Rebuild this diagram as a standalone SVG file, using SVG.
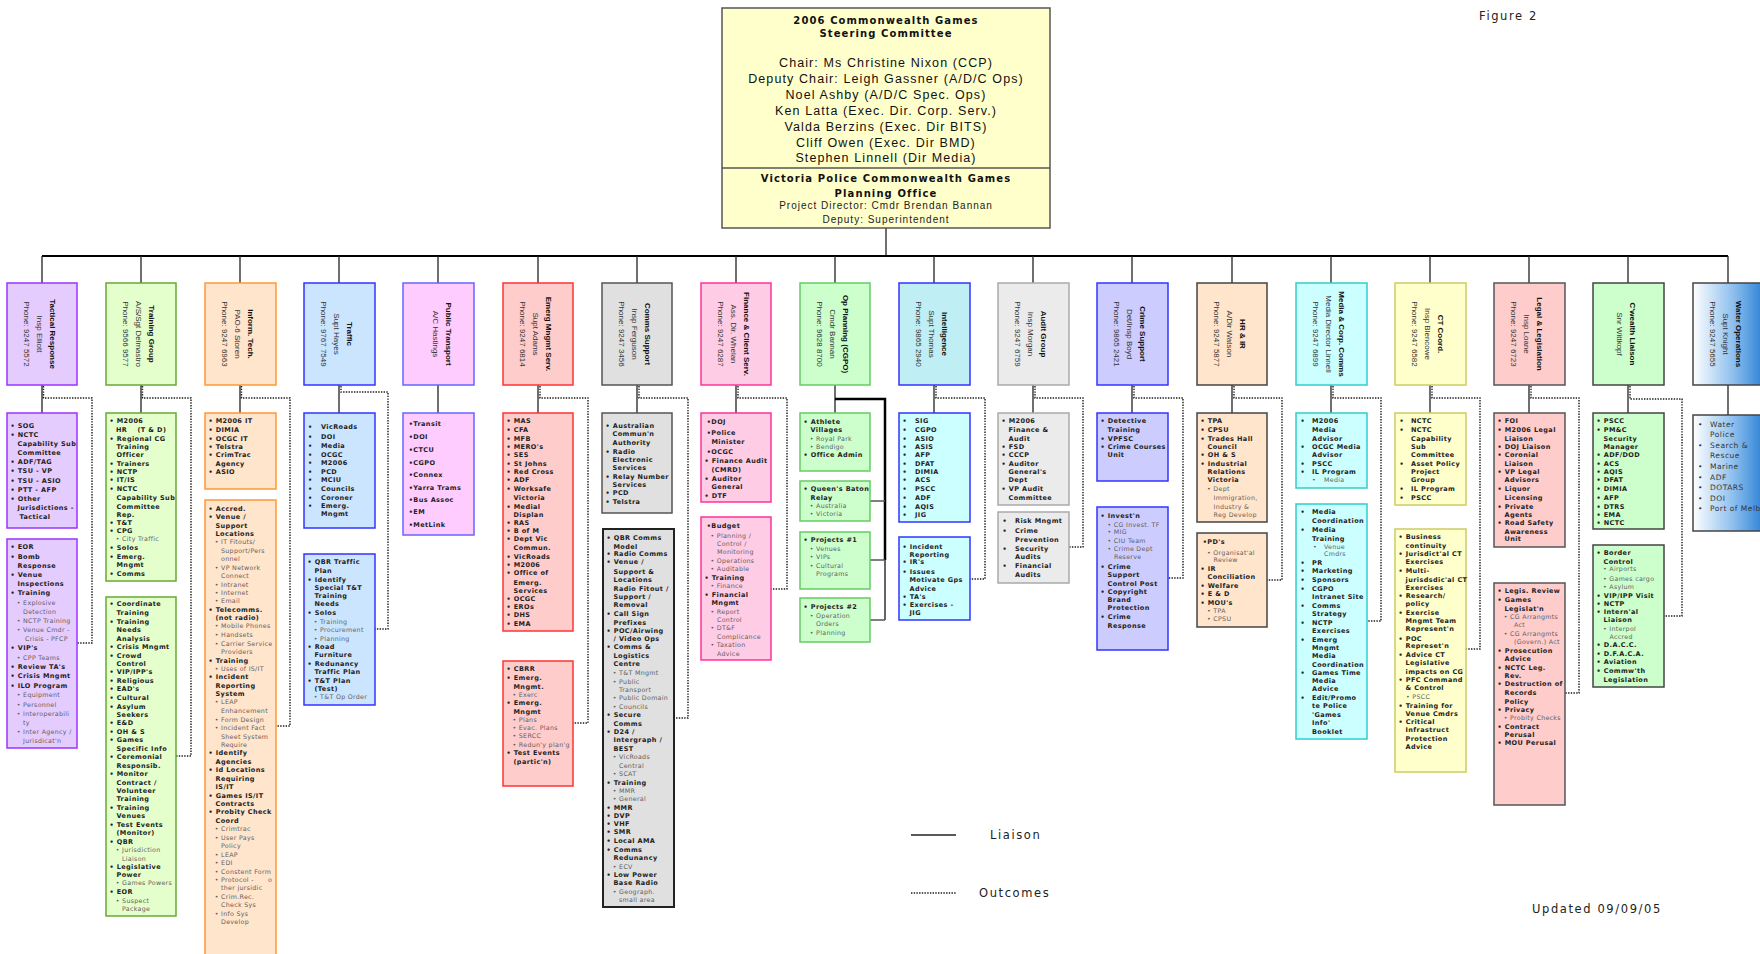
<svg xmlns="http://www.w3.org/2000/svg" width="1760" height="954" viewBox="0 0 1760 954">
<defs>
<linearGradient id="wg" x1="0" y1="0" x2="1" y2="0">
<stop offset="0" stop-color="#ffffff"/><stop offset="0.55" stop-color="#8fc0ee"/><stop offset="1" stop-color="#2a7fd4"/>
</linearGradient>
</defs>
<style>
.h{font-family:"Liberation Sans",Arial,sans-serif;font-weight:bold;font-size:8px;fill:#111;text-anchor:middle}
.n{font-family:"Liberation Sans",Arial,sans-serif;font-size:8px;fill:#333;text-anchor:middle}
.b{font-family:"DejaVu Sans",Verdana,sans-serif;font-weight:bold;font-size:6.5px;letter-spacing:.4px;fill:#222}
.s{font-family:"DejaVu Sans",Verdana,sans-serif;font-size:6.3px;letter-spacing:.3px;fill:#5f5f5f}
.w{font-family:"DejaVu Sans",Verdana,sans-serif;font-size:7.5px;letter-spacing:.5px;fill:#333}
.t1{font-family:"DejaVu Sans",Verdana,sans-serif;font-weight:bold;font-size:10px;letter-spacing:1.1px;fill:#111;text-anchor:middle}
.t2{font-family:"Liberation Sans",Arial,sans-serif;font-size:12.5px;letter-spacing:1.1px;fill:#111;text-anchor:middle}
.t3{font-family:"Liberation Sans",Arial,sans-serif;font-size:10px;letter-spacing:1px;fill:#222;text-anchor:middle}
.lg{font-family:"DejaVu Sans",Verdana,sans-serif;font-size:11.5px;letter-spacing:1.6px;fill:#222}
.ln{fill:none;stroke:#222;stroke-width:1.3}
.bus{fill:none;stroke:#000;stroke-width:2}
.dt{fill:none;stroke:#1a1a1a;stroke-width:1.4;stroke-dasharray:1.4 1.3}
rect{stroke-width:1.5}
.c1{fill:#e5ccff;stroke:#9933ff}
.c2{fill:#e5ffcc;stroke:#66aa33}
.c3{fill:#ffe5cc;stroke:#ff9933}
.c4{fill:#cce5ff;stroke:#3333ff}
.c5{fill:#ffccff;stroke:#6666ff}
.c6{fill:#ffcccc;stroke:#ff3333}
.c7{fill:#e0e0e0;stroke:#555}
.c7b{fill:#e0e0e0;stroke:#222;stroke-width:2}
.c8{fill:#ffcce5;stroke:#ff3399}
.c9{fill:#ccffcc;stroke:#66cc66}
.c10h{fill:#bfeff5;stroke:#3333ff}
.c10{fill:#ccffff;stroke:#3333ff}
.c11{fill:#ebebeb;stroke:#aaa}
.c12{fill:#ccccff;stroke:#3333ff}
.c13{fill:#ffe5cc;stroke:#444}
.c14{fill:#ccffff;stroke:#33cccc}
.c15{fill:#ffffcc;stroke:#cccc66}
.c16{fill:#ffcccc;stroke:#555}
.c17{fill:#ccffcc;stroke:#444}
.c18{fill:url(#wg);stroke:#444}
</style>

<g id="connectors">
<path class="ln" d="M886,228 V256"/>
<path class="bus" d="M42,256 H1728"/>
<path class="ln" d="M42,256V283M141,256V283M240,256V283M339,256V283M438,256V283M538,256V283M637,256V283M736,256V283M835,256V283M934,256V283M1033,256V283M1132,256V283M1232,256V283M1331,256V283M1430,256V283M1529,256V283M1628,256V283M1728,256V283"/>
<path class="ln" d="M42,385V413M141,385V413M240,385V413M339,385V413M438,385V413M538,385V413M637,385V413M736,385V413M835,385V413M934,385V413M1033,385V413M1132,385V413M1232,385V413M1331,385V413M1430,385V413M1529,385V413M1628,385V413M1728,385V415"/>
<path d="M835,399 H885 V560" fill="none" stroke="#000" stroke-width="2.5"/>
<path d="M885,560 V620" fill="none" stroke="#666" stroke-width="2"/>
<path d="M870,501 H885 M870,560 H885 M870,620 H885" fill="none" stroke="#555" stroke-width="1.5"/>
<path class="dt" d="M43.5,386 V398 H92 V643 H77"/>
<path class="dt" d="M142.5,386 V398 H191 V756 H176"/>
<path class="dt" d="M241.5,386 V398 H290 V726 H276"/>
<path class="dt" d="M341,386 V392 H388 V629 H375"/>
<path class="dt" d="M540,386 V398 H588 V723 H573"/>
<path class="dt" d="M639,386 V398 H688 V718 H674"/>
<path class="dt" d="M738,386 V398 H787 V589 H771"/>
<path class="dt" d="M936,386 V398 H985 V579 H970"/>
<path class="dt" d="M1035,386 V398 H1083 V547 H1069"/>
<path class="dt" d="M1134,386 V398 H1183 V578 H1168"/>
<path class="dt" d="M1234,386 V398 H1282 V580 H1267"/>
<path class="dt" d="M1333,386 V398 H1381 V621 H1367"/>
<path class="dt" d="M1432,386 V398 H1480 V649 H1466"/>
<path class="dt" d="M1531,386 V398 H1579 V693 H1565"/>
<path class="dt" d="M1630,386 V399 H1682 V616 H1664"/>
</g>

<g id="steering-committee">
<rect x="722" y="8" width="328" height="220" fill="#ffffcc" stroke="#555"/>
<line x1="722" y1="168" x2="1050" y2="168" stroke="#555" stroke-width="1.3"/>
<text class="t1" x="886" y="24">2006 Commonwealth Games</text>
<text class="t1" x="886" y="37">Steering Committee</text>
<text class="t2" x="886" y="66.5">Chair: Ms Christine Nixon (CCP)</text>
<text class="t2" x="886" y="82.5">Deputy Chair: Leigh Gassner (A/D/C Ops)</text>
<text class="t2" x="886" y="98.5">Noel Ashby (A/D/C Spec. Ops)</text>
<text class="t2" x="886" y="114.5">Ken Latta (Exec. Dir. Corp. Serv.)</text>
<text class="t2" x="886" y="130.5">Valda Berzins (Exec. Dir BITS)</text>
<text class="t2" x="886" y="146.5">Cliff Owen (Exec. Dir BMD)</text>
<text class="t2" x="886" y="162">Stephen Linnell (Dir Media)</text>
<text class="t1" x="886" y="182">Victoria Police Commonwealth Games</text>
<text class="t1" x="886" y="196.5">Planning Office</text>
<text class="t3" x="886" y="208.5">Project Director: Cmdr Brendan Bannan</text>
<text class="t3" x="886" y="222.5">Deputy: Superintendent</text>
</g>

<g id="tactical-response">
<rect class="c1" x="7" y="283" width="70" height="102"/>
<g transform="translate(42,334) rotate(90)"><text class="h" y="-8">Tactical Response</text><text class="n" y="5">Insp Elliott</text><text class="n" y="18">Phone: 9247 5572</text></g>
</g>
<g id="tactical-liaison" transform="translate(7,0)">
<rect class="c1" x="0" y="413" width="70" height="115"/>
<text class="b" x="3.5" y="428">• SOG</text>
<text class="b" x="3.5" y="437">• NCTC</text>
<text class="b" x="10.5" y="446">Capability Sub</text>
<text class="b" x="10.5" y="455">Committee</text>
<text class="b" x="3.5" y="464">• ADF/TAG</text>
<text class="b" x="3.5" y="473">• TSU - VP</text>
<text class="b" x="3.5" y="483">• TSU - ASIO</text>
<text class="b" x="3.5" y="492">• PTT - AFP</text>
<text class="b" x="3.5" y="501">• Other</text>
<text class="b" x="10.5" y="510">Jurisdictions -</text>
<text class="b" x="12.5" y="519">Tactical</text>
</g>
<g id="tactical-outcomes" transform="translate(7,0)">
<rect class="c1" x="0" y="539" width="70" height="209"/>
<text class="b" x="3.5" y="549">• EOR</text>
<text class="b" x="3.5" y="559">• Bomb</text>
<text class="b" x="10.5" y="568">Response</text>
<text class="b" x="3.5" y="577">• Venue</text>
<text class="b" x="10.5" y="586">Inspections</text>
<text class="b" x="3.5" y="595">• Training</text>
<text class="s" x="9.8" y="605">• Explosive</text>
<text class="s" x="16" y="614">Detection</text>
<text class="s" x="9.8" y="623">• NCTP Training</text>
<text class="s" x="9.8" y="632">• Venue Cmdr -</text>
<text class="s" x="18" y="641">Crisis - PFCP</text>
<text class="b" x="3.5" y="650">• VIP's</text>
<text class="s" x="9.8" y="660">• CPP Teams</text>
<text class="b" x="3.5" y="669">• Review TA's</text>
<text class="b" x="3.5" y="678">• Crisis Mngmt</text>
<text class="b" x="3.5" y="688">• ILO Program</text>
<text class="s" x="9.8" y="697">• Equipment</text>
<text class="s" x="9.8" y="707">• Personnel</text>
<text class="s" x="9.8" y="716">• Interoperabili</text>
<text class="s" x="16" y="725">ty</text>
<text class="s" x="9.8" y="734">• Inter Agency /</text>
<text class="s" x="16" y="743">Jurisdicat'n</text>
</g>

<g id="training-group">
<rect class="c2" x="106" y="283" width="70" height="102"/>
<g transform="translate(141,334) rotate(90)"><text class="h" y="-8">Training Group</text><text class="n" y="5">A/S/Sgt Delmastro</text><text class="n" y="18">Phone: 9566 9577</text></g>
</g>
<g id="training-liaison" transform="translate(106,0)">
<rect class="c2" x="0" y="413" width="70" height="168"/>
<text class="b" x="3.5" y="423">• M2006</text>
<text class="b" y="432"><tspan x="10">HR</tspan><tspan x="31.5">(T &amp; D)</tspan></text>
<text class="b" x="3.5" y="441">• Regional CG</text>
<text class="b" x="10.5" y="449">Training</text>
<text class="b" x="10.5" y="457">Officer</text>
<text class="b" x="3.5" y="466">• Trainers</text>
<text class="b" x="3.5" y="474">• NCTP</text>
<text class="b" x="3.5" y="482">• IT/IS</text>
<text class="b" x="3.5" y="491">• NCTC</text>
<text class="b" x="10.5" y="500">Capability Sub</text>
<text class="b" x="10.5" y="509">Committee</text>
<text class="b" x="10.5" y="517">Rep.</text>
<text class="b" x="3.5" y="525">• T&amp;T</text>
<text class="b" x="3.5" y="533">• CPG</text>
<text class="s" x="9.8" y="541">• City Traffic</text>
<text class="b" x="3.5" y="550">• Solos</text>
<text class="b" x="3.5" y="559">• Emerg.</text>
<text class="b" x="10.5" y="567">Mngmt</text>
<text class="b" x="3.5" y="576">• Comms</text>
</g>
<g id="training-outcomes" transform="translate(106,0)">
<rect class="c2" x="0" y="597" width="70" height="319"/>
<text class="b" x="3.5" y="606">• Coordinate</text>
<text class="b" x="10.5" y="615">Training</text>
<text class="b" x="3.5" y="624">• Training</text>
<text class="b" x="10.5" y="632">Needs</text>
<text class="b" x="10.5" y="641">Analysis</text>
<text class="b" x="3.5" y="649">• Crisis Mngmt</text>
<text class="b" x="3.5" y="658">• Crowd</text>
<text class="b" x="10.5" y="666">Control</text>
<text class="b" x="3.5" y="674">• VIP/IPP's</text>
<text class="b" x="3.5" y="683">• Religious</text>
<text class="b" x="3.5" y="691">• EAD's</text>
<text class="b" x="3.5" y="700">• Cultural</text>
<text class="b" x="3.5" y="709">• Asylum</text>
<text class="b" x="10.5" y="717">Seekers</text>
<text class="b" x="3.5" y="725">• E&amp;D</text>
<text class="b" x="3.5" y="734">• OH &amp; S</text>
<text class="b" x="3.5" y="742">• Games</text>
<text class="b" x="10.5" y="751">Specific Info</text>
<text class="b" x="3.5" y="759">• Ceremonial</text>
<text class="b" x="10.5" y="768">Responsib.</text>
<text class="b" x="3.5" y="776">• Monitor</text>
<text class="b" x="10.5" y="785">Contract /</text>
<text class="b" x="10.5" y="793">Volunteer</text>
<text class="b" x="10.5" y="801">Training</text>
<text class="b" x="3.5" y="810">• Training</text>
<text class="b" x="10.5" y="818">Venues</text>
<text class="b" x="3.5" y="827">• Test Events</text>
<text class="b" x="10.5" y="835">(Monitor)</text>
<text class="b" x="3.5" y="844">• QBR</text>
<text class="s" x="9.8" y="852">• Jurisdiction</text>
<text class="s" x="16" y="861">Liaison</text>
<text class="b" x="3.5" y="869">• Legislative</text>
<text class="b" x="10.5" y="877">Power</text>
<text class="s" x="9.8" y="885">• Games Powers</text>
<text class="b" x="3.5" y="894">• EOR</text>
<text class="s" x="9.8" y="903">• Suspect</text>
<text class="s" x="16" y="911">Package</text>
</g>

<g id="inform-tech">
<rect class="c3" x="205" y="283" width="71" height="102"/>
<g transform="translate(240,334) rotate(90)"><text class="h" y="-8">Inform. Tech.</text><text class="n" y="5">PAO-6 Storen</text><text class="n" y="18">Phone: 9247 6963</text></g>
</g>
<g id="infotech-liaison" transform="translate(205,0)">
<rect class="c3" x="0" y="413" width="71" height="76"/>
<text class="b" x="3.5" y="423">• M2006 IT</text>
<text class="b" x="3.5" y="432">• DIMIA</text>
<text class="b" x="3.5" y="441">• OCGC IT</text>
<text class="b" x="3.5" y="449">• Telstra</text>
<text class="b" x="3.5" y="457">• CrimTrac</text>
<text class="b" x="10.5" y="466">Agency</text>
<text class="b" x="3.5" y="474">• ASIO</text>
</g>
<g id="infotech-outcomes" transform="translate(205,0)">
<rect class="c3" x="0" y="500" width="71" height="470"/>
<text class="b" x="3.5" y="511">• Accred.</text>
<text class="b" x="3.5" y="519">• Venue /</text>
<text class="b" x="10.5" y="528">Support</text>
<text class="b" x="10.5" y="536">Locations</text>
<text class="s" x="9.8" y="544">• IT Fitouts/</text>
<text class="s" x="16" y="553">Support/Pers</text>
<text class="s" x="16" y="561">onnel</text>
<text class="s" x="9.8" y="570">• VP Network</text>
<text class="s" x="16" y="578">Connect</text>
<text class="s" x="9.8" y="587">• Intranet</text>
<text class="s" x="9.8" y="595">• Internet</text>
<text class="s" x="9.8" y="603">• Email</text>
<text class="b" x="3.5" y="612">• Telecomms.</text>
<text class="b" x="10.5" y="620">(not radio)</text>
<text class="s" x="9.8" y="628">• Mobile Phones</text>
<text class="s" x="9.8" y="637">• Handsets</text>
<text class="s" x="9.8" y="646">• Carrier Service</text>
<text class="s" x="16" y="654">Providers</text>
<text class="b" x="3.5" y="663">• Training</text>
<text class="s" x="9.8" y="671">• Uses of IS/IT</text>
<text class="b" x="3.5" y="679">• Incident</text>
<text class="b" x="10.5" y="688">Reporting</text>
<text class="b" x="10.5" y="696">System</text>
<text class="s" x="9.8" y="704">• LEAP</text>
<text class="s" x="16" y="713">Enhancement</text>
<text class="s" x="9.8" y="722">• Form Design</text>
<text class="s" x="9.8" y="730">• Incident Fact</text>
<text class="s" x="16" y="739">Sheet System</text>
<text class="s" x="16" y="747">Require</text>
<text class="b" x="3.5" y="755">• Identify</text>
<text class="b" x="10.5" y="764">Agencies</text>
<text class="b" x="3.5" y="772">• Id Locations</text>
<text class="b" x="10.5" y="781">Requiring</text>
<text class="b" x="10.5" y="789">IS/IT</text>
<text class="b" x="3.5" y="798">• Games IS/IT</text>
<text class="b" x="10.5" y="806">Contracts</text>
<text class="b" x="3.5" y="814">• Probity Check</text>
<text class="b" x="10.5" y="823">Coord</text>
<text class="s" x="9.8" y="831">• Crimtrac</text>
<text class="s" x="9.8" y="840">• User Pays</text>
<text class="s" x="16" y="848">Policy</text>
<text class="s" x="9.8" y="857">• LEAP</text>
<text class="s" x="9.8" y="865">• EDI</text>
<text class="s" x="9.8" y="874">• Constent Form</text>
<text class="s" y="882"><tspan x="9.8">• Protocol -</tspan><tspan x="63">o</tspan></text>
<text class="s" x="16" y="890">ther jursidic</text>
<text class="s" x="9.8" y="899">• Crim.Rec.</text>
<text class="s" x="16" y="907">Check Sys</text>
<text class="s" x="9.8" y="916">• Info Sys</text>
<text class="s" x="16" y="924">Develop</text>
</g>

<g id="traffic">
<rect class="c4" x="304" y="283" width="71" height="102"/>
<g transform="translate(339,334) rotate(90)"><text class="h" y="-8">Traffic</text><text class="n" y="5">Supt Hayes</text><text class="n" y="18">Phone: 9767 7549</text></g>
</g>
<g id="traffic-liaison" transform="translate(304,0)">
<rect class="c4" x="0" y="413" width="71" height="115"/>
<text class="b" y="429"><tspan x="4">•</tspan><tspan x="17">VicRoads</tspan></text>
<text class="b" y="439"><tspan x="4">•</tspan><tspan x="17">DOI</tspan></text>
<text class="b" y="448"><tspan x="4">•</tspan><tspan x="17">Media</tspan></text>
<text class="b" y="457"><tspan x="4">•</tspan><tspan x="17">OCGC</tspan></text>
<text class="b" y="465"><tspan x="4">•</tspan><tspan x="17">M2006</tspan></text>
<text class="b" y="474"><tspan x="4">•</tspan><tspan x="17">PCD</tspan></text>
<text class="b" y="482"><tspan x="4">•</tspan><tspan x="17">MCIU</tspan></text>
<text class="b" y="491"><tspan x="4">•</tspan><tspan x="17">Councils</tspan></text>
<text class="b" y="500"><tspan x="4">•</tspan><tspan x="17">Coroner</tspan></text>
<text class="b" y="508"><tspan x="4">•</tspan><tspan x="17">Emerg.</tspan></text>
<text class="b" x="17" y="516">Mngmt</text>
</g>
<g id="traffic-outcomes" transform="translate(304,0)">
<rect class="c4" x="0" y="554" width="71" height="151"/>
<text class="b" x="3.5" y="564">• QBR Traffic</text>
<text class="b" x="10.5" y="573">Plan</text>
<text class="b" x="3.5" y="582">• Identify</text>
<text class="b" x="10.5" y="590">Special T&amp;T</text>
<text class="b" x="10.5" y="598">Training</text>
<text class="b" x="10.5" y="606">Needs</text>
<text class="b" x="3.5" y="615">• Solos</text>
<text class="s" x="9.8" y="624">• Training</text>
<text class="s" x="9.8" y="632">• Procurement</text>
<text class="s" x="9.8" y="641">• Planning</text>
<text class="b" x="3.5" y="649">• Road</text>
<text class="b" x="10.5" y="657">Furniture</text>
<text class="b" x="3.5" y="666">• Redunancy</text>
<text class="b" x="10.5" y="674">Traffic Plan</text>
<text class="b" x="3.5" y="683">• T&amp;T Plan</text>
<text class="b" x="10.5" y="691">(Test)</text>
<text class="s" x="9.8" y="699">• T&amp;T Op Order</text>
</g>

<g id="public-transport">
<rect class="c5" x="403" y="283" width="71" height="102"/>
<g transform="translate(438,334) rotate(90)"><text class="h" y="-8">Public Transport</text><text class="n" y="5">A/C Hastings</text></g>
</g>
<g id="transport-liaison" transform="translate(403,0)">
<rect class="c5" x="0" y="413" width="71" height="122"/>
<text class="b" x="5.8" y="426">•Transit</text>
<text class="b" x="5.8" y="439">•DOI</text>
<text class="b" x="5.8" y="452">•CTCU</text>
<text class="b" x="5.8" y="465">•CGPO</text>
<text class="b" x="5.8" y="477">•Connex</text>
<text class="b" x="5.8" y="490">•Yarra Trams</text>
<text class="b" x="5.8" y="502">•Bus Assoc</text>
<text class="b" x="5.8" y="514">•EM</text>
<text class="b" x="5.8" y="527">•MetLink</text>
</g>

<g id="emergency-management">
<rect class="c6" x="503" y="283" width="70" height="102"/>
<g transform="translate(538,334) rotate(90)"><text class="h" y="-8">Emerg Mngmt Serv.</text><text class="n" y="5">Supt Adams</text><text class="n" y="18">Phone: 9247 6814</text></g>
</g>
<g id="emergency-liaison" transform="translate(503,0)">
<rect class="c6" x="0" y="413" width="70" height="218"/>
<text class="b" x="3.5" y="423">• MAS</text>
<text class="b" x="3.5" y="432">• CFA</text>
<text class="b" x="3.5" y="441">• MFB</text>
<text class="b" x="3.5" y="449">• MERO's</text>
<text class="b" x="3.5" y="457">• SES</text>
<text class="b" x="3.5" y="466">• St Johns</text>
<text class="b" x="3.5" y="474">• Red Cross</text>
<text class="b" x="3.5" y="482">• ADF</text>
<text class="b" x="3.5" y="491">• Worksafe</text>
<text class="b" x="10.5" y="500">Victoria</text>
<text class="b" x="3.5" y="509">• Medial</text>
<text class="b" x="10.5" y="517">Displan</text>
<text class="b" x="3.5" y="525">• RAS</text>
<text class="b" x="3.5" y="533">• B of M</text>
<text class="b" x="3.5" y="541">• Dept Vic</text>
<text class="b" x="10.5" y="550">Commun.</text>
<text class="b" x="3.5" y="559">• VicRoads</text>
<text class="b" x="3.5" y="567">• M2006</text>
<text class="b" x="3.5" y="575">• Office of</text>
<text class="b" x="10.5" y="585">Emerg.</text>
<text class="b" x="10.5" y="593">Services</text>
<text class="b" x="3.5" y="601">• OCGC</text>
<text class="b" x="3.5" y="609">• EROs</text>
<text class="b" x="3.5" y="617">• DHS</text>
<text class="b" x="3.5" y="626">• EMA</text>
</g>
<g id="emergency-outcomes" transform="translate(503,0)">
<rect class="c6" x="0" y="661" width="70" height="125"/>
<text class="b" x="3.5" y="671">• CBRR</text>
<text class="b" x="3.5" y="680">• Emerg.</text>
<text class="b" x="10.5" y="689">Mngmt.</text>
<text class="s" x="9.5" y="697">• Exerc</text>
<text class="b" x="3.5" y="705">• Emerg.</text>
<text class="b" x="10.5" y="714">Mngmt</text>
<text class="s" x="9.5" y="722">• Plans</text>
<text class="s" x="9.5" y="730">• Evac. Plans</text>
<text class="s" x="9.5" y="738">• SERCC</text>
<text class="s" x="9.5" y="747">• Redun'y plan'g</text>
<text class="b" x="3.5" y="755">• Test Events</text>
<text class="b" x="10.5" y="764">(partic'n)</text>
</g>

<g id="comms-support">
<rect class="c7" x="602" y="283" width="70" height="102"/>
<g transform="translate(637,334) rotate(90)"><text class="h" y="-8">Comms Support</text><text class="n" y="5">Insp Ferguson</text><text class="n" y="18">Phone: 9247 3456</text></g>
</g>
<g id="comms-liaison" transform="translate(602,0)">
<rect class="c7" x="0" y="413" width="70" height="100"/>
<text class="b" x="3.5" y="428">• Australian</text>
<text class="b" x="10.5" y="436">Commun'n</text>
<text class="b" x="10.5" y="445">Authority</text>
<text class="b" x="3.5" y="454">• Radio</text>
<text class="b" x="10.5" y="462">Electronic</text>
<text class="b" x="10.5" y="470">Services</text>
<text class="b" x="3.5" y="479">• Relay Number</text>
<text class="b" x="10.5" y="487">Services</text>
<text class="b" x="3.5" y="495">• PCD</text>
<text class="b" x="3.5" y="504">• Telstra</text>
</g>
<g id="comms-outcomes" transform="translate(602,0)">
<rect class="c7b" x="1" y="529" width="71" height="378"/>
<text class="b" x="4.5" y="540">• QBR Comms</text>
<text class="b" x="11.5" y="549">Model</text>
<text class="b" x="4.5" y="556">• Radio Comms</text>
<text class="b" x="4.5" y="564">• Venue /</text>
<text class="b" x="11.5" y="574">Support &amp;</text>
<text class="b" x="11.5" y="582">Locations</text>
<text class="b" x="11.5" y="591">Radio Fitout /</text>
<text class="b" x="11.5" y="599">Support /</text>
<text class="b" x="11.5" y="607">Removal</text>
<text class="b" x="4.5" y="616">• Call Sign</text>
<text class="b" x="11.5" y="625">Prefixes</text>
<text class="b" x="4.5" y="633">• POC/Airwing</text>
<text class="b" x="11.5" y="641">/ Video Ops</text>
<text class="b" x="4.5" y="649">• Comms &amp;</text>
<text class="b" x="11.5" y="658">Logistics</text>
<text class="b" x="11.5" y="666">Centre</text>
<text class="s" x="10.8" y="675">• T&amp;T Mngmt</text>
<text class="s" x="10.8" y="684">• Public</text>
<text class="s" x="17" y="692">Transport</text>
<text class="s" x="10.8" y="700">• Public Domain</text>
<text class="s" x="10.8" y="709">• Councils</text>
<text class="b" x="4.5" y="717">• Secure</text>
<text class="b" x="11.5" y="726">Comms</text>
<text class="b" x="4.5" y="734">• D24 /</text>
<text class="b" x="11.5" y="742">Intergraph /</text>
<text class="b" x="11.5" y="751">BEST</text>
<text class="s" x="10.8" y="759">• VicRoads</text>
<text class="s" x="17" y="768">Central</text>
<text class="s" x="10.8" y="776">• SCAT</text>
<text class="b" x="4.5" y="785">• Training</text>
<text class="s" x="10.8" y="793">• MMR</text>
<text class="s" x="10.8" y="801">• General</text>
<text class="b" x="4.5" y="810">• MMR</text>
<text class="b" x="4.5" y="818">• DVP</text>
<text class="b" x="4.5" y="826">• VHF</text>
<text class="b" x="4.5" y="834">• SMR</text>
<text class="b" x="4.5" y="843">• Local AMA</text>
<text class="b" x="4.5" y="852">• Comms</text>
<text class="b" x="11.5" y="860">Redunancy</text>
<text class="s" x="10.8" y="869">• ECV</text>
<text class="b" x="4.5" y="877">• Low Power</text>
<text class="b" x="11.5" y="885">Base Radio</text>
<text class="s" x="10.8" y="894">• Geograph.</text>
<text class="s" x="17" y="902">small area</text>
</g>

<g id="finance">
<rect class="c8" x="701" y="283" width="70" height="102"/>
<g transform="translate(736,334) rotate(90)"><text class="h" y="-8">Finance &amp; Client Serv.</text><text class="n" y="5">Ass. Dir. Whelan</text><text class="n" y="18">Phone: 9247 6287</text></g>
</g>
<g id="finance-liaison" transform="translate(701,0)">
<rect class="c8" x="0" y="413" width="70" height="89"/>
<text class="b" x="5.8" y="424">•DOJ</text>
<text class="b" x="5.8" y="435">•Police</text>
<text class="b" x="10.5" y="444">Minister</text>
<text class="b" x="5.8" y="454">•OCGC</text>
<text class="b" x="3.5" y="463">• Finance Audit</text>
<text class="b" x="10.5" y="472">(CMRD)</text>
<text class="b" x="3.5" y="481">• Auditor</text>
<text class="b" x="10.5" y="489">General</text>
<text class="b" x="3.5" y="498">• DTF</text>
</g>
<g id="finance-outcomes" transform="translate(701,0)">
<rect class="c8" x="0" y="517" width="70" height="143"/>
<text class="b" x="5.8" y="528">•Budget</text>
<text class="s" x="9.5" y="538">• Planning /</text>
<text class="s" x="16" y="546">Control /</text>
<text class="s" x="16" y="554">Monitoring</text>
<text class="s" x="9.5" y="563">• Operations</text>
<text class="s" x="9.5" y="571">• Auditable</text>
<text class="b" x="3.5" y="580">• Training</text>
<text class="s" x="9.5" y="588">• Finance</text>
<text class="b" x="3.5" y="597">• Financial</text>
<text class="b" x="10.5" y="605">Mngmt</text>
<text class="s" x="9.5" y="614">• Report</text>
<text class="s" x="16" y="622">Control</text>
<text class="s" x="9.5" y="630">• DT&amp;F</text>
<text class="s" x="16" y="639">Complicance</text>
<text class="s" x="9.5" y="647">• Taxation</text>
<text class="s" x="16" y="656">Advice</text>
</g>

<g id="op-planning">
<rect class="c9" x="800" y="283" width="70" height="102"/>
<g transform="translate(835,334) rotate(90)"><text class="h" y="-8">Op Planning (CGPO)</text><text class="n" y="5">Cmdr Bannan</text><text class="n" y="18">Phone: 9628 8700</text></g>
</g>
<g id="op-athlete" transform="translate(800,0)">
<rect class="c9" x="0" y="413" width="70" height="58"/>
<text class="b" x="3.5" y="424">• Athlete</text>
<text class="b" x="10.5" y="432">Villages</text>
<text class="s" x="9.8" y="441">• Royal Park</text>
<text class="s" x="9.8" y="449">• Bendigo</text>
<text class="b" x="3.5" y="457">• Office Admin</text>
</g>
<g id="op-baton" transform="translate(800,0)">
<rect class="c9" x="0" y="481" width="70" height="40"/>
<text class="b" x="3.5" y="491">• Queen's Baton</text>
<text class="b" x="10.5" y="500">Relay</text>
<text class="s" x="9.8" y="508">• Australia</text>
<text class="s" x="9.8" y="516">• Victoria</text>
</g>
<g id="op-projects1" transform="translate(800,0)">
<rect class="c9" x="0" y="532" width="70" height="57"/>
<text class="b" x="3.5" y="542">• Projects #1</text>
<text class="s" x="9.8" y="551">• Venues</text>
<text class="s" x="9.8" y="559">• VIPs</text>
<text class="s" x="9.8" y="568">• Cultural</text>
<text class="s" x="16" y="576">Programs</text>
</g>
<g id="op-projects2" transform="translate(800,0)">
<rect class="c9" x="0" y="598" width="70" height="44"/>
<text class="b" x="3.5" y="609">• Projects #2</text>
<text class="s" x="9.8" y="618">• Operation</text>
<text class="s" x="16" y="626">Orders</text>
<text class="s" x="9.8" y="635">• Planning</text>
</g>

<g id="intelligence">
<rect class="c10h" x="899" y="283" width="71" height="102"/>
<g transform="translate(934,334) rotate(90)"><text class="h" y="-8">Intelligence</text><text class="n" y="5">Supt Thomas</text><text class="n" y="18">Phone: 9865 2940</text></g>
</g>
<g id="intel-liaison" transform="translate(899,0)">
<rect class="c10" x="0" y="413" width="71" height="109"/>
<text class="b" y="423"><tspan x="3.5">•</tspan><tspan x="16">SIG</tspan></text>
<text class="b" y="432"><tspan x="3.5">•</tspan><tspan x="16">CGPO</tspan></text>
<text class="b" y="441"><tspan x="3.5">•</tspan><tspan x="16">ASIO</tspan></text>
<text class="b" y="449"><tspan x="3.5">•</tspan><tspan x="16">ASIS</tspan></text>
<text class="b" y="457"><tspan x="3.5">•</tspan><tspan x="16">AFP</tspan></text>
<text class="b" y="466"><tspan x="3.5">•</tspan><tspan x="16">DFAT</tspan></text>
<text class="b" y="474"><tspan x="3.5">•</tspan><tspan x="16">DIMIA</tspan></text>
<text class="b" y="482"><tspan x="3.5">•</tspan><tspan x="16">ACS</tspan></text>
<text class="b" y="491"><tspan x="3.5">•</tspan><tspan x="16">PSCC</tspan></text>
<text class="b" y="500"><tspan x="3.5">•</tspan><tspan x="16">ADF</tspan></text>
<text class="b" y="509"><tspan x="3.5">•</tspan><tspan x="16">AQIS</tspan></text>
<text class="b" y="517"><tspan x="3.5">•</tspan><tspan x="16">JIG</tspan></text>
</g>
<g id="intel-outcomes" transform="translate(899,0)">
<rect class="c10" x="0" y="537" width="71" height="83"/>
<text class="b" x="3.5" y="549">• Incident</text>
<text class="b" x="10.5" y="557">Reporting</text>
<text class="b" x="3.5" y="564">• IR's</text>
<text class="b" x="3.5" y="574">• Issues</text>
<text class="b" x="10.5" y="582">Motivate Gps</text>
<text class="b" x="10.5" y="591">Advice</text>
<text class="b" x="3.5" y="599">• TA's</text>
<text class="b" x="3.5" y="607">• Exercises -</text>
<text class="b" x="10.5" y="615">JIG</text>
</g>

<g id="audit-group">
<rect class="c11" x="998" y="283" width="71" height="102"/>
<g transform="translate(1033,334) rotate(90)"><text class="h" y="-8">Audit Group</text><text class="n" y="5">Insp Morgan</text><text class="n" y="18">Phone: 9247 6759</text></g>
</g>
<g id="audit-liaison" transform="translate(998,0)">
<rect class="c11" x="0" y="413" width="71" height="92"/>
<text class="b" x="3.5" y="423">• M2006</text>
<text class="b" x="10.5" y="432">Finance &amp;</text>
<text class="b" x="10.5" y="441">Audit</text>
<text class="b" x="3.5" y="449">• FSD</text>
<text class="b" x="3.5" y="457">• CCCP</text>
<text class="b" x="3.5" y="466">• Auditor</text>
<text class="b" x="10.5" y="474">General's</text>
<text class="b" x="10.5" y="482">Dept</text>
<text class="b" x="3.5" y="491">• VP Audit</text>
<text class="b" x="10.5" y="500">Committee</text>
</g>
<g id="audit-outcomes" transform="translate(998,0)">
<rect class="c11" x="0" y="512" width="71" height="71"/>
<text class="b" y="523"><tspan x="4.5">•</tspan><tspan x="17">Risk Mngmt</tspan></text>
<text class="b" y="533"><tspan x="4.5">•</tspan><tspan x="17">Crime</tspan></text>
<text class="b" x="17" y="542">Prevention</text>
<text class="b" y="551"><tspan x="4.5">•</tspan><tspan x="17">Security</tspan></text>
<text class="b" x="17" y="559">Audits</text>
<text class="b" y="568"><tspan x="4.5">•</tspan><tspan x="17">Financial</tspan></text>
<text class="b" x="17" y="577">Audits</text>
</g>

<g id="crime-support">
<rect class="c12" x="1097" y="283" width="71" height="102"/>
<g transform="translate(1132,334) rotate(90)"><text class="h" y="-8">Crime Support</text><text class="n" y="5">Det/Insp Boyd</text><text class="n" y="18">Phone: 9865 2421</text></g>
</g>
<g id="crime-liaison" transform="translate(1097,0)">
<rect class="c12" x="0" y="413" width="71" height="68"/>
<text class="b" x="3.5" y="423">• Detective</text>
<text class="b" x="10.5" y="432">Training</text>
<text class="b" x="3.5" y="441">• VPFSC</text>
<text class="b" x="3.5" y="449">• Crime Courses</text>
<text class="b" x="10.5" y="457">Unit</text>
</g>
<g id="crime-outcomes" transform="translate(1097,0)">
<rect class="c12" x="0" y="507" width="71" height="143"/>
<text class="b" x="3.5" y="518">• Invest'n</text>
<text class="s" x="10.5" y="527">• CG Invest. TF</text>
<text class="s" x="10.5" y="534">• MIG</text>
<text class="s" x="10.5" y="543">• CIU Team</text>
<text class="s" x="10.5" y="551">• Crime Dept</text>
<text class="s" x="17" y="559">Reserve</text>
<text class="b" x="3.5" y="569">• Crime</text>
<text class="b" x="10.5" y="577">Support</text>
<text class="b" x="10.5" y="586">Control Post</text>
<text class="b" x="3.5" y="594">• Copyright</text>
<text class="b" x="10.5" y="602">Brand</text>
<text class="b" x="10.5" y="610">Protection</text>
<text class="b" x="3.5" y="619">• Crime</text>
<text class="b" x="10.5" y="628">Response</text>
</g>

<g id="hr-ir">
<rect class="c13" x="1197" y="283" width="70" height="102"/>
<g transform="translate(1232,334) rotate(90)"><text class="h" y="-8">HR &amp; IR</text><text class="n" y="5">A/Dir Watson</text><text class="n" y="18">Phone: 9247 5877</text></g>
</g>
<g id="hr-liaison" transform="translate(1197,0)">
<rect class="c13" x="0" y="413" width="70" height="109"/>
<text class="b" x="3.5" y="423">• TPA</text>
<text class="b" x="3.5" y="432">• CPSU</text>
<text class="b" x="3.5" y="441">• Trades Hall</text>
<text class="b" x="10.5" y="449">Council</text>
<text class="b" x="3.5" y="457">• OH &amp; S</text>
<text class="b" x="3.5" y="466">• Industrial</text>
<text class="b" x="10.5" y="474">Relations</text>
<text class="b" x="10.5" y="482">Victoria</text>
<text class="s" x="10" y="491">• Dept</text>
<text class="s" x="16.5" y="500">Immigration,</text>
<text class="s" x="16.5" y="509">Industry &amp;</text>
<text class="s" x="16.5" y="517">Reg Develop</text>
</g>
<g id="hr-outcomes" transform="translate(1197,0)">
<rect class="c13" x="0" y="533" width="70" height="94"/>
<text class="b" x="5.8" y="544">•PD's</text>
<text class="s" x="10" y="555">• Organisat'al</text>
<text class="s" x="16.5" y="562">Review</text>
<text class="b" x="3.5" y="571">• IR</text>
<text class="b" x="10.5" y="579">Conciliation</text>
<text class="b" x="3.5" y="588">• Welfare</text>
<text class="b" x="3.5" y="596">• E &amp; D</text>
<text class="b" x="3.5" y="605">• MOU's</text>
<text class="s" x="10" y="613">• TPA</text>
<text class="s" x="10" y="621">• CPSU</text>
</g>

<g id="media-corp-comms">
<rect class="c14" x="1296" y="283" width="71" height="102"/>
<g transform="translate(1331,334) rotate(90)"><text class="h" y="-8">Media &amp; Corp. Comms</text><text class="n" y="5">Media Director Linnell</text><text class="n" y="18">Phone: 9247 6899</text></g>
</g>
<g id="media-liaison" transform="translate(1296,0)">
<rect class="c14" x="0" y="413" width="71" height="75"/>
<text class="b" y="423"><tspan x="4.5">•</tspan><tspan x="16">M2006</tspan></text>
<text class="b" x="16" y="432">Media</text>
<text class="b" x="16" y="441">Advisor</text>
<text class="b" y="449"><tspan x="4.5">•</tspan><tspan x="16">OCGC Media</tspan></text>
<text class="b" x="16" y="457">Advisor</text>
<text class="b" y="466"><tspan x="4.5">•</tspan><tspan x="16">PSCC</tspan></text>
<text class="b" y="474"><tspan x="4.5">•</tspan><tspan x="16">IL Program</tspan></text>
<text class="s" y="482"><tspan x="16">•</tspan><tspan x="28">Media</tspan></text>
</g>
<g id="media-outcomes" transform="translate(1296,0)">
<rect class="c14" x="0" y="504" width="71" height="235"/>
<text class="b" y="514"><tspan x="4.5">•</tspan><tspan x="16">Media</tspan></text>
<text class="b" x="16" y="523">Coordination</text>
<text class="b" y="532"><tspan x="4.5">•</tspan><tspan x="16">Media</tspan></text>
<text class="b" x="16" y="541">Training</text>
<text class="s" y="549"><tspan x="17">•</tspan><tspan x="28">Venue</tspan></text>
<text class="s" x="28" y="556">Cmdrs</text>
<text class="b" y="565"><tspan x="4.5">•</tspan><tspan x="16">PR</tspan></text>
<text class="b" y="573"><tspan x="4.5">•</tspan><tspan x="16">Marketing</tspan></text>
<text class="b" y="582"><tspan x="4.5">•</tspan><tspan x="16">Sponsors</tspan></text>
<text class="b" y="591"><tspan x="4.5">•</tspan><tspan x="16">CGPO</tspan></text>
<text class="b" x="16" y="599">Intranet Site</text>
<text class="b" y="608"><tspan x="4.5">•</tspan><tspan x="16">Comms</tspan></text>
<text class="b" x="16" y="616">Strategy</text>
<text class="b" y="625"><tspan x="4.5">•</tspan><tspan x="16">NCTP</tspan></text>
<text class="b" x="16" y="633">Exercises</text>
<text class="b" y="642"><tspan x="4.5">•</tspan><tspan x="16">Emerg</tspan></text>
<text class="b" x="16" y="650">Mngmt</text>
<text class="b" x="16" y="658">Media</text>
<text class="b" x="16" y="667">Coordination</text>
<text class="b" y="675"><tspan x="4.5">•</tspan><tspan x="16">Games Time</tspan></text>
<text class="b" x="16" y="683">Media</text>
<text class="b" x="16" y="691">Advice</text>
<text class="b" y="700"><tspan x="4.5">•</tspan><tspan x="16">Edit/Promo</tspan></text>
<text class="b" x="16" y="708">te Police</text>
<text class="b" x="16" y="717">'Games</text>
<text class="b" x="16" y="725">Info'</text>
<text class="b" x="16" y="734">Booklet</text>
</g>

<g id="ct-coord">
<rect class="c15" x="1395" y="283" width="71" height="102"/>
<g transform="translate(1430,334) rotate(90)"><text class="h" y="-8">CT Coord.</text><text class="n" y="5">Insp Blencowe</text><text class="n" y="18">Phone: 9247 6582</text></g>
</g>
<g id="ct-liaison" transform="translate(1395,0)">
<rect class="c15" x="0" y="413" width="71" height="92"/>
<text class="b" y="423"><tspan x="4.5">•</tspan><tspan x="16">NCTC</tspan></text>
<text class="b" y="432"><tspan x="4.5">•</tspan><tspan x="16">NCTC</tspan></text>
<text class="b" x="16" y="441">Capability</text>
<text class="b" x="16" y="449">Sub</text>
<text class="b" x="16" y="457">Committee</text>
<text class="b" y="466"><tspan x="4.5">•</tspan><tspan x="16">Asset Policy</tspan></text>
<text class="b" x="16" y="474">Project</text>
<text class="b" x="16" y="482">Group</text>
<text class="b" y="491"><tspan x="4.5">•</tspan><tspan x="16">IL Program</tspan></text>
<text class="b" y="500"><tspan x="4.5">•</tspan><tspan x="16">PSCC</tspan></text>
</g>
<g id="ct-outcomes" transform="translate(1395,0)">
<rect class="c15" x="0" y="529" width="71" height="243"/>
<text class="b" x="3.5" y="539">• Business</text>
<text class="b" x="10.5" y="548">continuity</text>
<text class="b" x="3.5" y="556">• Jurisdict'al CT</text>
<text class="b" x="10.5" y="564">Exercises</text>
<text class="b" x="3.5" y="573">• Multi-</text>
<text class="b" x="10.5" y="582">jurisdsdic'al CT</text>
<text class="b" x="10.5" y="590">Exercises</text>
<text class="b" x="3.5" y="598">• Research/</text>
<text class="b" x="10.5" y="606">policy</text>
<text class="b" x="3.5" y="615">• Exercise</text>
<text class="b" x="10.5" y="623">Mngmt Team</text>
<text class="b" x="10.5" y="631">Represent'n</text>
<text class="b" x="3.5" y="641">• POC</text>
<text class="b" x="10.5" y="648">Represet'n</text>
<text class="b" x="3.5" y="657">• Advice CT</text>
<text class="b" x="10.5" y="665">Legislative</text>
<text class="b" x="10.5" y="674">impacts on CG</text>
<text class="b" x="3.5" y="682">• PFC Command</text>
<text class="b" x="10.5" y="690">&amp; Control</text>
<text class="s" x="11" y="699">• PSCC</text>
<text class="b" x="3.5" y="708">• Training for</text>
<text class="b" x="10.5" y="716">Venue Cmdrs</text>
<text class="b" x="3.5" y="724">• Critical</text>
<text class="b" x="10.5" y="732">Infrastruct</text>
<text class="b" x="10.5" y="741">Protection</text>
<text class="b" x="10.5" y="749">Advice</text>
</g>

<g id="legal-legislation">
<rect class="c16" x="1494" y="283" width="71" height="102"/>
<g transform="translate(1529,334) rotate(90)"><text class="h" y="-8">Legal &amp; Legislation</text><text class="n" y="5">Insp Loane</text><text class="n" y="18">Phone: 9247 6723</text></g>
</g>
<g id="legal-liaison" transform="translate(1494,0)">
<rect class="c16" x="0" y="413" width="71" height="134"/>
<text class="b" x="3.5" y="423">• FOI</text>
<text class="b" x="3.5" y="432">• M2006 Legal</text>
<text class="b" x="10.5" y="441">Liaison</text>
<text class="b" x="3.5" y="449">• DOJ Liaison</text>
<text class="b" x="3.5" y="457">• Coronial</text>
<text class="b" x="10.5" y="466">Liaison</text>
<text class="b" x="3.5" y="474">• VP Legal</text>
<text class="b" x="10.5" y="482">Advisors</text>
<text class="b" x="3.5" y="491">• Liquor</text>
<text class="b" x="10.5" y="500">Licensing</text>
<text class="b" x="3.5" y="509">• Private</text>
<text class="b" x="10.5" y="517">Agents</text>
<text class="b" x="3.5" y="525">• Road Safety</text>
<text class="b" x="10.5" y="534">Awareness</text>
<text class="b" x="10.5" y="541">Unit</text>
</g>
<g id="legal-outcomes" transform="translate(1494,0)">
<rect class="c16" x="0" y="583" width="71" height="222"/>
<text class="b" x="3.5" y="593">• Legis. Review</text>
<text class="b" x="3.5" y="602">• Games</text>
<text class="b" x="10.5" y="611">Legislat'n</text>
<text class="s" x="9.8" y="619">• CG Arrangmts</text>
<text class="s" x="20" y="627">Act</text>
<text class="s" x="9.8" y="636">• CG Arrangmts</text>
<text class="s" x="20" y="644">(Govern.) Act</text>
<text class="b" x="3.5" y="653">• Prosecution</text>
<text class="b" x="10.5" y="661">Advice</text>
<text class="b" x="3.5" y="670">• NCTC Leg.</text>
<text class="b" x="10.5" y="678">Rev.</text>
<text class="b" x="3.5" y="686">• Destruction of</text>
<text class="b" x="10.5" y="695">Records</text>
<text class="b" x="10.5" y="704">Policy</text>
<text class="b" x="3.5" y="712">• Privacy</text>
<text class="s" x="9.8" y="720">• Probity Checks</text>
<text class="b" x="3.5" y="729">• Contract</text>
<text class="b" x="10.5" y="737">Perusal</text>
<text class="b" x="3.5" y="745">• MOU Perusal</text>
</g>

<g id="cwealth-liaison">
<rect class="c17" x="1593" y="283" width="71" height="102"/>
<g transform="translate(1628,334) rotate(90)"><text class="h" y="-2">C'wealth Liaison</text><text class="n" y="11">Snr Wittkopf</text></g>
</g>
<g id="cwealth-liaison-box" transform="translate(1593,0)">
<rect class="c17" x="0" y="413" width="71" height="116"/>
<text class="b" x="3.5" y="423">• PSCC</text>
<text class="b" x="3.5" y="432">• PM&amp;C</text>
<text class="b" x="10.5" y="441">Security</text>
<text class="b" x="10.5" y="449">Manager</text>
<text class="b" x="3.5" y="457">• ADF/DOD</text>
<text class="b" x="3.5" y="466">• ACS</text>
<text class="b" x="3.5" y="474">• AQIS</text>
<text class="b" x="3.5" y="482">• DFAT</text>
<text class="b" x="3.5" y="491">• DIMIA</text>
<text class="b" x="3.5" y="500">• AFP</text>
<text class="b" x="3.5" y="509">• DTRS</text>
<text class="b" x="3.5" y="517">• EMA</text>
<text class="b" x="3.5" y="525">• NCTC</text>
</g>
<g id="cwealth-outcomes" transform="translate(1593,0)">
<rect class="c17" x="0" y="545" width="71" height="142"/>
<text class="b" x="3.5" y="555">• Border</text>
<text class="b" x="10.5" y="564">Control</text>
<text class="s" x="10" y="571">• Airports</text>
<text class="s" x="10" y="581">• Games cargo</text>
<text class="s" x="10" y="589">• Asylum</text>
<text class="b" x="3.5" y="598">• VIP/IPP Visit</text>
<text class="b" x="3.5" y="606">• NCTP</text>
<text class="b" x="3.5" y="614">• Intern'al</text>
<text class="b" x="10.5" y="622">Liaison</text>
<text class="s" x="10" y="631">• Interpol</text>
<text class="s" x="16.5" y="639">Accred</text>
<text class="b" x="3.5" y="647">• D.A.C.C.</text>
<text class="b" x="3.5" y="656">• D.F.A.C.A.</text>
<text class="b" x="3.5" y="664">• Aviation</text>
<text class="b" x="3.5" y="673">• Commw'th</text>
<text class="b" x="10.5" y="682">Legislation</text>
</g>

<g id="water-operations">
<rect class="c18" x="1693" y="283" width="72" height="102"/>
<g transform="translate(1728,334) rotate(90)"><text class="h" y="-8">Water Operations</text><text class="n" y="5">Supt Knight</text><text class="n" y="18">Phone: 9247 5655</text></g>
</g>
<g id="water-liaison" transform="translate(1693,0)">
<rect class="c18" x="0" y="415" width="72" height="116" stroke="#222"/>
<text class="w" y="427"><tspan x="5">•</tspan><tspan x="17">Water</tspan></text>
<text class="w" x="17" y="437">Police</text>
<text class="w" y="448"><tspan x="5">•</tspan><tspan x="17">Search &amp;</tspan></text>
<text class="w" x="17" y="458">Rescue</text>
<text class="w" y="469"><tspan x="5">•</tspan><tspan x="17">Marine</tspan></text>
<text class="w" y="480"><tspan x="5">•</tspan><tspan x="17">ADF</tspan></text>
<text class="w" y="490"><tspan x="5">•</tspan><tspan x="17">DOTARS</tspan></text>
<text class="w" y="501"><tspan x="5">•</tspan><tspan x="17">DOI</tspan></text>
<text class="w" y="511"><tspan x="5">•</tspan><tspan x="17">Port of Melb</tspan></text>
</g>

<g id="legend">
<line x1="911" y1="835" x2="956" y2="835" stroke="#222" stroke-width="1.3"/>
<text class="lg" x="990" y="839">Liaison</text>
<line class="dt" x1="911" y1="893" x2="956" y2="893"/>
<text class="lg" x="979" y="897">Outcomes</text>
</g>
<text class="lg" x="1479" y="20">Figure 2</text>
<text class="lg" x="1532" y="913">Updated 09/09/05</text>
</svg>
